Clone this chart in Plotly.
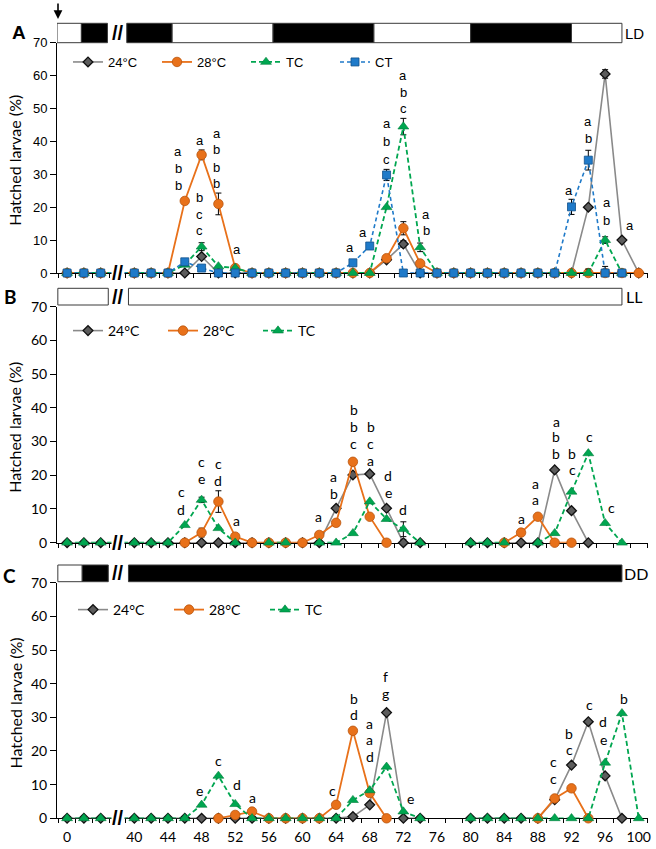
import plotly.graph_objects as go

N = None
# ---------------- data ----------------
hours = [0, 2, 4, 40, 42, 44, 46, 48, 50, 52, 54, 56, 58, 60, 62, 64, 66, 68,
         70, 72, 74, 76, 78, 80, 82, 84, 86, 88, 90, 92, 94, 96, 98, 100]
tick_hours = [0, 40, 44, 48, 52, 56, 60, 64, 68, 72, 76, 80, 84, 88, 92, 96, 100]
tick_labels = ["0", "40", "44", "48", "52", "56", "60", "64", "68", "72", "76",
               "80", "84", "88", "92", "96", "100"]

# Panel A (LD)
a_24 = [0, 0, 0, 0, 0, 0, 0, 5.0, 0, 0, 0, 0, 0, 0, 0, 0, 0, 0, 4.0, 8.8,
        0, 0, 0, 0, 0, 0, 0, 0, 0, 0, 20.0, 60.5, 10.0, 0]
a_28 = [0, 0, 0, 0, 0, 0, 21.9, 35.9, 21.0, 1.5, 0, 0, 0, 0, 0, 0, 0, 0, 4.5, 13.6,
        2.9, 0, 0, 0, 0, 0, 0, 0, 0, 0, 0, 0, 0, 0]
a_tc = [0, 0, 0, 0, 0, 0, 2.5, 8.0, 2.0, 1.5, 0, 0, 0, 0, 0, 0, 0, 0, 20.0, 44.5,
        7.8, 0, 0, 0, 0, 0, 0, 0, 0, 0, 0, 10.0, 0, N]
a_ct = [0, 0, 0, 0, 0, 0, 3.4, 1.5, 0, 0, 0, 0, 0, 0, 0, 0, 3.1, 8.2, 29.8, 0,
        0, 0, 0, 0, 0, 0, 0, 0, 0, 20.1, 34.3, 0, 0, N]
a_24_err = {72: 1.0, 96: 1.3}
a_28_err = {46: 0.5, 48: 1.5, 50: 3.3, 72: 2.0}
a_tc_err = {48: 1.2, 72: 2.5, 74: 1.3, 94: 1.2, 96: 1.0}
a_ct_err = {68: 0.8, 70: 1.7, 92: 2.3, 94: 3.0, 96: 2.0}

# Panel B (LL)
b_24 = [0, 0, 0, 0, 0, 0, 0, 0, 0, 0, 0, 0, 0, 0, 0, 10.2, 20.1, 20.4, 10.2, 0,
        0, N, N, 0, 0, 0, 0, 0, 21.6, 9.5, 0, N, N, N]
b_28 = [N, N, N, N, N, N, 0, 3.0, 12.2, 1.8, 0, 0, 0, 0, 2.3, 5.9, 24.0, 7.7, 0, N,
        N, N, N, N, N, 0, 3.0, 7.7, 0, 0, N, N, N, N]
b_tc = [0, 0, 0, 0, 0, 0, 5.2, 12.7, 4.3, 0, N, 0, 0, N, 0, 0, 2.8, 12.2, 7.0, 4.0,
        0, N, N, 0, 0, 0, N, 0, 2.8, 15.1, 26.5, 5.8, 0, N]
b_24_err = {72: 1.0}
b_28_err = {48: 1.3, 50: 3.2}
b_tc_err = {48: 0.8, 72: 2.2}

# Panel C (DD)
c_24 = [0, 0, 0, 0, 0, 0, 0, 0, 0, 0, 0, 0, 0, 0, 0, 0, 0.5, 4.0, 31.4, 0,
        0, N, N, 0, 0, 0, 0, 0, 5.5, 15.8, 28.7, 12.6, 0, N]
c_28 = [N, N, N, N, N, N, N, N, 0, 1.0, 2.0, 0, 0, 0, 0, 4.0, 26.0, 7.5, 0, N,
        N, N, N, N, N, N, N, 0, 5.9, 8.9, 0, N, N, N]
c_tc = [0, 0, 0, 0, 0, 0, 0, 4.0, 12.6, 4.2, 0, 0, 0, 0, 0, 0, 5.4, 8.3, 15.3, 2.0,
        0, N, N, 0, 0, 0, 0, 0, 0, 0, 0, 16.5, 31.2, 0]
c_24_err = {}
c_28_err = {}
c_tc_err = {}

# significance letters: (hour, value, letter)
labels_A = [
    (45.2, 36.8, "a"), (45.2, 31.9, "b"), (45.2, 26.7, "b"),
    (47.8, 40.4, "a"),
    (49.8, 42.5, "a"), (49.8, 37.4, "b"), (49.8, 32.2, "b"), (49.8, 27.3, "b"),
    (47.8, 23.1, "b"), (47.8, 17.9, "c"), (47.8, 12.8, "c"),
    (52.2, 7.0, "a"),
    (65.6, 7.9, "a"), (67.2, 12.2, "a"),
    (70.0, 45.3, "a"), (70.0, 40.1, "b"), (70.0, 34.6, "c"),
    (72.0, 59.9, "a"), (72.0, 54.8, "b"), (72.0, 50.0, "c"),
    (74.7, 17.9, "a"), (74.7, 12.9, "b"),
    (91.7, 25.2, "a"),
    (94.0, 45.9, "a"), (94.0, 41.0, "b"),
    (96.2, 21.3, "a"), (96.2, 16.1, "b"),
    (98.9, 14.3, "a"),
]
labels_B = [
    (45.6, 15.1, "c"), (45.6, 9.9, "d"),
    (48.0, 24.0, "c"), (48.0, 19.1, "e"),
    (50.0, 23.6, "c"), (50.0, 18.4, "d"),
    (52.2, 6.7, "a"),
    (61.9, 7.7, "a"),
    (63.7, 19.6, "a"), (63.7, 14.7, "b"),
    (66.1, 39.4, "b"), (66.1, 34.4, "b"), (66.1, 29.5, "c"),
    (68.1, 34.4, "b"), (68.1, 29.5, "c"), (68.1, 24.5, "a"),
    (70.2, 19.8, "d"), (70.2, 14.8, "e"),
    (72.0, 9.9, "d"),
    (86.1, 7.2, "a"),
    (87.7, 17.7, "a"), (87.7, 12.7, "a"),
    (90.2, 35.9, "a"), (90.2, 31.4, "b"), (90.2, 26.5, "b"),
    (92.1, 26.6, "b"), (92.1, 21.6, "c"),
    (94.1, 31.4, "c"),
    (96.8, 10.3, "c"),
]
labels_C = [
    (47.7, 8.4, "e"), (50.0, 17.3, "c"), (52.2, 9.9, "d"), (54.1, 6.2, "a"),
    (63.6, 8.4, "c"),
    (66.1, 35.7, "b"), (66.1, 30.7, "d"),
    (69.9, 42.1, "f"), (69.9, 37.1, "g"),
    (68.0, 28.2, "a"), (68.0, 23.3, "a"), (68.0, 18.3, "d"),
    (72.8, 5.9, "e"),
    (89.8, 16.8, "c"), (89.8, 11.9, "c"),
    (91.75, 25.3, "b"), (91.75, 20.3, "c"),
    (94.1, 33.7, "c"),
    (95.8, 28.7, "d"), (95.8, 23.5, "e"),
    (98.2, 35.7, "b"),
]

# ---------------- styling ----------------
W, H = 656, 849
FA = "Liberation Sans, Arial, sans-serif"
FB = "Lato, Open Sans, sans-serif"
GREY_L, GREY_M = "#8a8a8a", "#5c5c5c"
ORANGE, ORANGE_D = "#E8711A", "#B9540C"
GREEN = "#00A650"
BLUE, BLUE_D = "#1F7AC9", "#13508A"


def pos(h):
    # axis break: the first three samples sit just before the "//"
    return h + 32 if h < 40 else h


xs = [pos(h) for h in hours]


def errs(vals, d):
    up, dn = [], []
    for h, v in zip(hours, vals):
        e = d.get(h)
        if e is None or v is None:
            up.append(None)
            dn.append(None)
        else:
            up.append(e)
            dn.append(min(e, v))
    return up, dn


def py(p):
    return 1 - p / H


def pxx(p):
    return p / W


styles = {
    "24": dict(line=dict(color=GREY_L, width=1.6),
               marker=dict(symbol="diamond", size=7.5, color=GREY_M,
                           line=dict(color="#111111", width=1.3))),
    "28": dict(line=dict(color=ORANGE, width=1.8),
               marker=dict(symbol="circle", size=9.5, color=ORANGE,
                           line=dict(color=ORANGE_D, width=0.8))),
    "TC": dict(line=dict(color=GREEN, width=1.8, dash="5px,3px"),
               marker=dict(symbol="triangle-up", size=9.5, color=GREEN,
                           line=dict(color="#00803c", width=0.6))),
    "CT": dict(line=dict(color=BLUE, width=1.6, dash="4px,3px"),
               marker=dict(symbol="square", size=8, color=BLUE,
                           line=dict(color=BLUE_D, width=0.8))),
}
names = {"24": "24\u00b0C", "28": "28\u00b0C", "TC": "TC", "CT": "CT"}

fig = go.Figure()

panels = [
    ("x", "y", "legend", [("24", a_24, a_24_err), ("28", a_28, a_28_err),
                          ("TC", a_tc, a_tc_err), ("CT", a_ct, a_ct_err)]),
    ("x2", "y2", "legend2", [("24", b_24, b_24_err), ("28", b_28, b_28_err),
                             ("TC", b_tc, b_tc_err)]),
    ("x3", "y3", "legend3", [("24", c_24, c_24_err), ("28", c_28, c_28_err),
                             ("TC", c_tc, c_tc_err)]),
]
for xa, ya, lg, series in panels:
    for key, vals, ed in series:
        up, dn = errs(vals, ed)
        fig.add_trace(go.Scatter(
            x=xs, y=vals, mode="lines+markers", name=names[key],
            xaxis=xa, yaxis=ya, legend=lg, cliponaxis=False,
            connectgaps=False, hoverinfo="skip",
            error_y=dict(type="data", symmetric=False, array=up, arrayminus=dn,
                         color="black", thickness=1, width=3),
            **styles[key]))

# axis geometry (pixels)
XL, XR = 57, 648
doms = {"A": (42.7, 273.0), "B": (306.7, 542.7), "C": (582.7, 818.3)}
xrange_ = [30.8, 101.1]
minor_vals = [31, 33, 35, 37, 39] + list(range(41, 102, 2))

layout = dict(
    template="none",
    width=W, height=H, margin=dict(l=0, r=0, t=0, b=0, pad=0, autoexpand=False),
    paper_bgcolor="white", plot_bgcolor="white", showlegend=True,
)
for i, (key, fam, tsize) in enumerate([("A", FA, 13), ("B", FB, 14), ("C", FB, 14)]):
    sfx = "" if i == 0 else str(i + 1)
    top, bot = doms[key]
    layout["xaxis" + sfx] = dict(
        domain=[pxx(XL), pxx(XR)], range=xrange_, anchor="y" + sfx,
        automargin=False,
        showline=True, linecolor="black", linewidth=1, showgrid=False,
        zeroline=False, layer="below traces",
        tickmode="array", tickvals=[pos(h) for h in tick_hours],
        ticktext=tick_labels, ticks="outside", ticklen=0,
        showticklabels=(key == "C"), ticklabelstandoff=6,
        tickfont=dict(family=FB, size=14, color="black"),
        minor=dict(tickmode="array", tickvals=minor_vals, ticks="outside",
                   ticklen=4, tickcolor="black", tickwidth=1, showgrid=False),
    )
    layout["yaxis" + sfx] = dict(
        domain=[py(bot), py(top)], range=[0, 70], anchor="x" + sfx,
        automargin=False,
        tickmode="linear", tick0=0, dtick=10, ticks="outside", ticklen=6,
        tickcolor="black", showline=True, linecolor="black", linewidth=1,
        showgrid=False, zeroline=False, layer="below traces",
        tickfont=dict(family=fam, size=tsize, color="black"),
    )

leg_common = dict(orientation="h", xanchor="left", yanchor="middle",
                  bgcolor="rgba(0,0,0,0)", tracegroupgap=0, borderwidth=0)
layout["legend"] = dict(x=pxx(68), y=py(62), entrywidth=44,
                        font=dict(family=FA, size=13, color="black"), **leg_common)
layout["legend2"] = dict(x=pxx(68), y=py(331), entrywidth=50,
                         font=dict(family=FB, size=14, color="black"), **leg_common)
layout["legend3"] = dict(x=pxx(73), y=py(610), entrywidth=51,
                         font=dict(family=FB, size=14, color="black"), **leg_common)

fig.update_layout(**layout)

# ---------------- light-regime bars ----------------
bar_segments = {
    "A": [(30.8, 33.7, "white"), (33.7, 36.8, "black"), (39.1, 44.5, "black"),
          (44.5, 56.5, "white"), (56.5, 68.5, "black"), (68.5, 80.0, "white"),
          (80.0, 92.0, "black"), (92.0, 98.0, "white")],
    "B": [(30.9, 36.9, "white"), (39.3, 98.0, "white")],
    "C": [(30.9, 33.8, "white"), (33.8, 36.9, "black"), (39.3, 98.0, "black")],
}
bar_px = {"A": (23.3, 42.7), "B": (288.3, 305.0), "C": (565.0, 581.7)}
bar_xref = {"A": "x", "B": "x2", "C": "x3"}
shapes = []
for k, segs in bar_segments.items():
    t, b = bar_px[k]
    for x0, x1, col in segs:
        shapes.append(dict(type="rect", xref=bar_xref[k], yref="paper",
                           x0=x0, x1=x1, y0=py(b), y1=py(t), fillcolor=col,
                           line=dict(color="#3a3a3a", width=1), layer="above"))
fig.update_layout(shapes=shapes)

ann = []
C = dict(xanchor="center", yanchor="middle", showarrow=False)
# regime labels
for k, txt, xp, fam, sz in [("A", "LD", 634, FA, 15), ("B", "LL", 634, FB, 16), ("C", "DD", 636, FB, 16)]:
    t, b = bar_px[k]
    ann.append(dict(text=txt, x=pxx(xp), y=py((t + b) / 2), xref="paper", yref="paper",
                    font=dict(family=fam, size=sz, color="black"), **C))
# panel letters
for txt, xp, yp, fam in [("A", 18.5, 32, FA), ("B", 10, 296, FB), ("C", 9, 575, FB)]:
    ann.append(dict(text="<b>%s</b>" % txt, x=pxx(xp), y=py(yp), xref="paper", yref="paper",
                    font=dict(family=fam, size=19, color="black"), **C))
# break marks on bars
for k in ["A", "B", "C"]:
    t, b = bar_px[k]
    ann.append(dict(text="<b>//</b>", x=38.1, y=py((t + b) / 2), xref=bar_xref[k], yref="paper",
                    font=dict(family=FA, size=20, color="black"), **C))
# break marks on x axes
for k, ya in [("A", "y"), ("B", "y2"), ("C", "y3")]:
    ann.append(dict(text="<b>//</b>", x=38.1, y=0, xref=bar_xref[k], yref=ya,
                    bgcolor="white", borderpad=0,
                    font=dict(family=FA, size=20, color="black"), **C))
# y-axis titles
for k in ["A", "B", "C"]:
    t, b = doms[k]
    ann.append(dict(text="Hatched larvae (%)", x=pxx(15), y=py((t + b) / 2 + 3),
                    xref="paper", yref="paper", textangle=-90,
                    font=dict(family=FB, size=16, color="black"), **C))
# arrow (start of experiment)
ann.append(dict(text="", x=pxx(58), y=py(19), xref="paper", yref="paper",
                showarrow=True, ax=0, ay=-17, arrowhead=2, arrowsize=1.1,
                arrowwidth=1.6, arrowcolor="black"))
# significance letters
for labels, xa, ya, fam, sz in [(labels_A, "x", "y", FA, 13),
                                (labels_B, "x2", "y2", FB, 14),
                                (labels_C, "x3", "y3", FB, 14)]:
    for h, v, t in labels:
        ann.append(dict(text=t, x=h, y=v, xref=xa, yref=ya,
                        font=dict(family=fam, size=sz, color="black"), **C))

fig.update_layout(annotations=ann)
fig.write_html("out.html", config={"displayModeBar": False, "staticPlot": True},
               post_script="document.body.style.margin='0';document.body.style.padding='0';")
